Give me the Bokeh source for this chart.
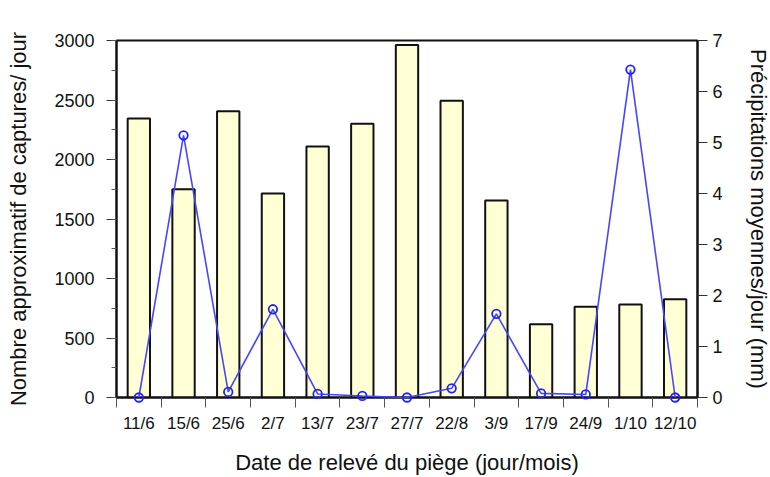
from bokeh.plotting import figure
from bokeh.models import Range1d, LinearAxis, FixedTicker
from bokeh.embed import file_html
from bokeh.resources import INLINE

# Trap collection dates (day/month)
dates = ["11/6", "15/6", "25/6", "2/7", "13/7", "23/7", "27/7",
         "22/8", "3/9", "17/9", "24/9", "1/10", "12/10"]
# Approximate number of captures per day
captures = [2345, 1750, 2405, 1715, 2110, 2300, 2962,
            2494, 1655, 615, 762, 782, 825]
# Mean daily rainfall (mm)
rainfall = [0.0, 5.14, 0.11, 1.73, 0.07, 0.03, 0.0,
            0.18, 1.64, 0.08, 0.06, 6.43, 0.0]

left_ticks = [0, 500, 1000, 1500, 2000, 2500, 3000]
left_minor = list(range(0, 3001, 250))
right_ticks = [0, 1, 2, 3, 4, 5, 6, 7]

n = len(dates)
centers = [i + 0.5 for i in range(n)]
bounds = [float(i) for i in range(n + 1)]

FONT = "Liberation Sans"
TXT = "#111111"

p = figure(frame_width=581, frame_height=357,
           min_border_left=116, min_border_right=73,
           min_border_top=40, min_border_bottom=80,
           x_range=Range1d(0, n), y_range=Range1d(0, 3000),
           output_backend="svg", toolbar_location=None,
           x_axis_location=None, y_axis_location=None)
p.background_fill_color = "white"
p.border_fill_color = "white"
p.outline_line_color = "#111111"
p.outline_line_width = 2
p.xgrid.visible = False
p.ygrid.visible = False
p.extra_y_ranges = {"rain": Range1d(0, 7)}

# Bars: captures
p.vbar(x=centers, top=captures, width=0.5, bottom=0,
       fill_color="#FFFFD6", line_color="#111111", line_width=2)

# Line + open circles: rainfall
p.line(x=centers, y=rainfall, y_range_name="rain",
       line_color="#4646FF", line_width=1.6, level="overlay")
p.scatter(x=centers, y=rainfall, y_range_name="rain", marker="circle",
          size=8.5, fill_color=None, line_color="#2222FF", line_width=1.8,
          level="overlay")

def style_axis(ax, tick_size):
    ax.axis_line_color = "#111111"
    ax.axis_line_width = 2
    ax.major_tick_line_color = "#333333"
    ax.minor_tick_line_color = "#555555"
    ax.major_tick_line_width = 1
    ax.minor_tick_line_width = 1
    ax.major_tick_in = 0
    ax.minor_tick_in = 0
    ax.major_label_text_font = FONT
    ax.major_label_text_font_size = tick_size
    ax.major_label_text_color = TXT
    ax.axis_label_text_font = FONT
    ax.axis_label_text_font_size = "22px"
    ax.axis_label_text_font_style = "normal"
    ax.axis_label_text_color = TXT

# Left axis: captures
yl = LinearAxis(ticker=FixedTicker(ticks=left_ticks, minor_ticks=left_minor),
                axis_label="Nombre approximatif de captures/ jour")
style_axis(yl, "18px")
yl.major_tick_out = 10
yl.minor_tick_out = 5
yl.major_label_standoff = 12
yl.axis_label_standoff = 20
p.add_layout(yl, "left")

# Right axis: rainfall
yr = LinearAxis(y_range_name="rain",
                ticker=FixedTicker(ticks=right_ticks, minor_ticks=[]),
                axis_label="Précipitations moyennes/jour (mm)")
style_axis(yr, "18px")
yr.major_tick_out = 10
yr.minor_tick_out = 0
yr.major_label_standoff = 5
yr.axis_label_standoff = 20
p.add_layout(yr, "right")

# Bottom axis: labels at bar centers, tick marks at category boundaries
xb = LinearAxis(ticker=FixedTicker(ticks=centers, minor_ticks=bounds),
                axis_label="Date de relevé du piège (jour/mois)")
style_axis(xb, "17px")
xb.major_label_overrides = {c: d for c, d in zip(centers, dates)}
xb.major_tick_out = 0
xb.minor_tick_out = 10
xb.major_label_standoff = 6
xb.axis_label_standoff = 14
p.add_layout(xb, "below")

open("out.html", "w").write(file_html(p, INLINE))
